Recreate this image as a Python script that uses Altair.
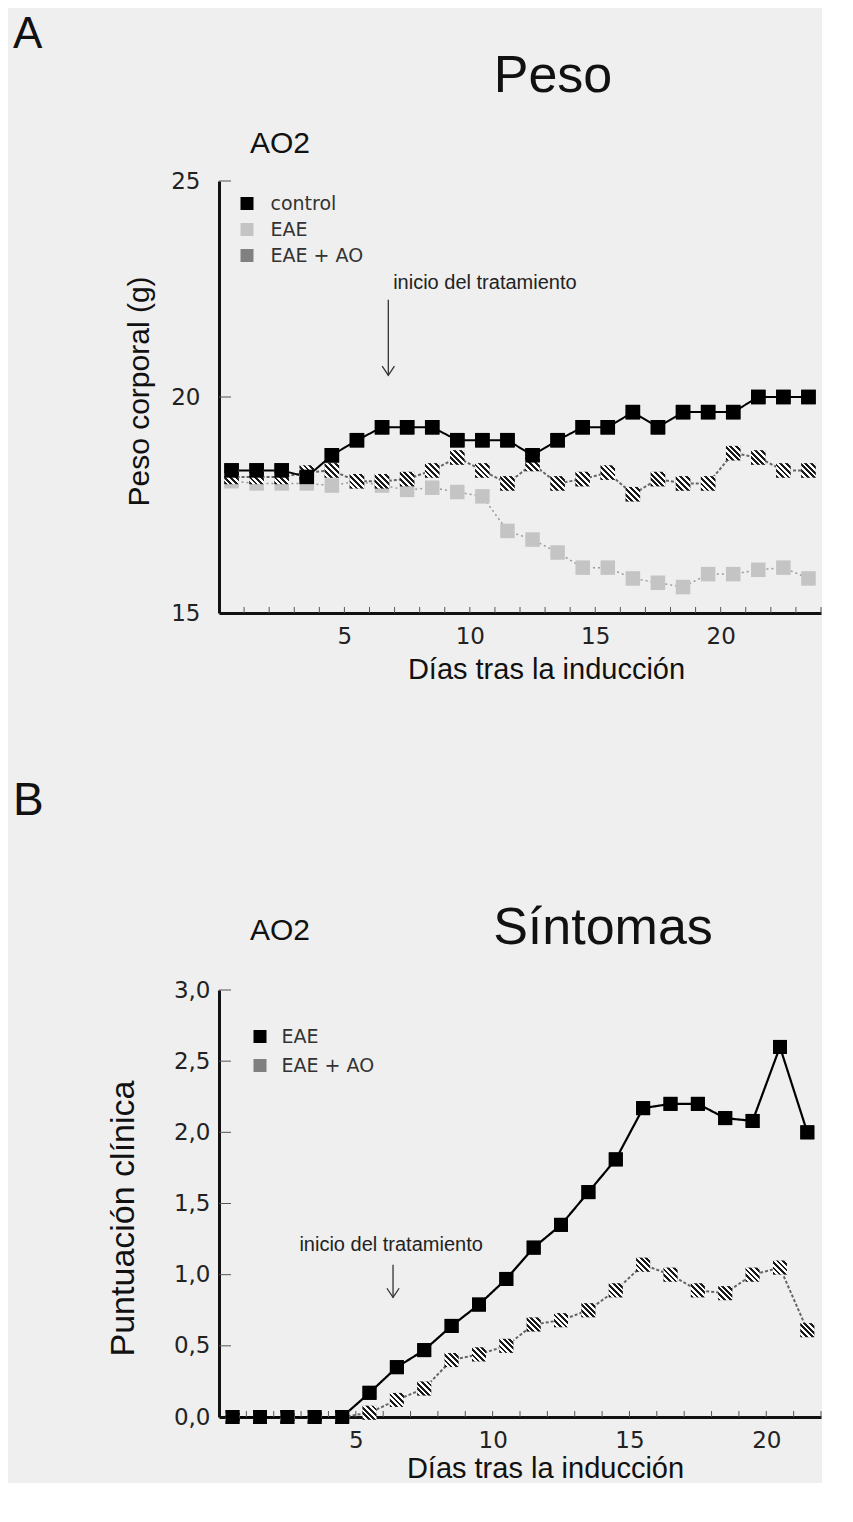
import altair as alt
import pandas as pd

# ---------------- data: panel A (Peso) ----------------
dias_a = [0.5, 1.5, 2.5, 3.5, 4.5, 5.5, 6.5, 7.5, 8.5, 9.5, 10.5, 11.5,
          12.5, 13.5, 14.5, 15.5, 16.5, 17.5, 18.5, 19.5, 20.5, 21.5, 22.5, 23.5]
peso_control = [18.3, 18.3, 18.3, 18.15, 18.65, 19.0, 19.3, 19.3, 19.3, 19.0, 19.0, 19.0,
                18.65, 19.0, 19.3, 19.3, 19.65, 19.3, 19.65, 19.65, 19.65, 20.0, 20.0, 20.0]
peso_eae = [18.05, 18.0, 18.0, 18.0, 17.95, 18.05, 17.95, 17.85, 17.9, 17.8, 17.7, 16.9,
            16.7, 16.4, 16.05, 16.05, 15.8, 15.7, 15.6, 15.9, 15.9, 16.0, 16.05, 15.8]
peso_eae_ao = [18.15, 18.15, 18.15, 18.25, 18.3, 18.05, 18.05, 18.1, 18.3, 18.6, 18.3, 18.0,
               18.45, 18.0, 18.1, 18.25, 17.75, 18.1, 18.0, 18.0, 18.7, 18.6, 18.3, 18.3]
ticks_x_a = [1, 2, 3, 4, 5, 6, 7, 8, 9, 10, 11, 12, 13, 14, 15, 16, 17, 18, 19, 20, 21, 22, 23, 24]
ticks_y_a = [20, 25]

# ---------------- data: panel B (Síntomas) ----------------
dias_b = [0.5, 1.5, 2.5, 3.5, 4.5, 5.5, 6.5, 7.5, 8.5, 9.5, 10.5,
          11.5, 12.5, 13.5, 14.5, 15.5, 16.5, 17.5, 18.5, 19.5, 20.5, 21.5]
sint_eae = [0, 0, 0, 0, 0, 0.17, 0.35, 0.47, 0.64, 0.79, 0.97,
            1.19, 1.35, 1.58, 1.81, 2.17, 2.2, 2.2, 2.1, 2.08, 2.6, 2.0]
sint_eae_ao = [0, 0, 0, 0, 0, 0.03, 0.12, 0.2, 0.4, 0.44, 0.5,
               0.65, 0.68, 0.75, 0.89, 1.07, 1.0, 0.89, 0.87, 1.0, 1.05, 0.61]
ticks_x_b = [1, 2, 3, 4, 5, 6, 7, 8, 9, 10, 11, 12, 13, 14, 15, 16, 17, 18, 19, 20, 21, 22]
ticks_y_b = [0.5, 1.0, 1.5, 2.0, 2.5, 3.0]

series_a = ["control", "EAE", "EAE + AO"]
series_b = ["EAE", "EAE + AO"]
texto_flecha = "inicio del tratamiento"
# annotation anchors (data units): text x, text y, arrow x, arrow top, arrow bottom
flecha_a = [10.6, 22.64, 6.75, 22.25, 20.5]
flecha_b = [6.29, 1.21, 6.36, 1.07, 0.84]

SANS = "Liberation Sans"
WIDE = "DejaVu Sans"


def hatch():
    stops = []
    n = 5
    for k in range(n):
        a, b, c = k / n, (k + 0.5) / n, (k + 1) / n
        stops += [alt.GradientStop(color="#1a1a1a", offset=a),
                  alt.GradientStop(color="#1a1a1a", offset=b),
                  alt.GradientStop(color="#ffffff", offset=b),
                  alt.GradientStop(color="#ffffff", offset=c)]
    return alt.LinearGradient(gradient="linear", stops=stops, x1=0, y1=1, x2=1, y2=0)


def txt(s, x, y, size, align="center"):
    return alt.Chart(pd.DataFrame({"t": [s]})).mark_text(
        font=SANS, fontSize=size, align=align, baseline="alphabetic", color="#111"
    ).encode(x=alt.value(x), y=alt.value(y), text="t:N")


def panel(dias, series_vals, names, colors, fills, dashes, widths, xdom, ydom,
          xaxis, yaxis, tx, ty, fl, legend, head, sq):
    rows = []
    for name, vals in zip(names, series_vals):
        for d, v in zip(dias, vals):
            rows.append({"dia": d, "valor": v, "serie": name, "grupo": name})
    df = pd.DataFrame(rows)
    xs = alt.Scale(domain=xdom, nice=False, zero=False)
    ys = alt.Scale(domain=ydom, nice=False, zero=False)

    def X(f):
        return alt.X(f, type="quantitative", scale=xs, axis=xaxis)

    def Y(f):
        return alt.Y(f, type="quantitative", scale=ys, axis=yaxis)

    base = alt.Chart(df)
    layers = []
    # lines, one layer per series (drawn back to front)
    for name, col, dash, w in reversed(list(zip(names, colors, dashes, widths))):
        layers.append(base.transform_filter(alt.datum.serie == name).mark_line(
            color=col, strokeDash=dash, strokeWidth=w).encode(x=X("dia"), y=Y("valor")))
    fill_enc = alt.Fill("grupo:N", scale=alt.Scale(domain=names, range=fills), legend=legend)
    # all squares via the fill scale (gives the legend)
    layers.append(base.mark_square(size=sq, opacity=1).encode(x=X("dia"), y=Y("valor"), fill=fill_enc))
    # hatched overlay for EAE + AO
    layers.append(base.transform_filter(alt.datum.serie == "EAE + AO").mark_square(
        size=sq, opacity=1, fill=hatch()).encode(x=X("dia"), y=Y("valor")))
    # black series on top
    layers.append(base.transform_filter(alt.datum.serie == names[0]).mark_square(
        size=sq, opacity=1, fill="#000000").encode(x=X("dia"), y=Y("valor")))

    # inside ticks
    tdx = pd.DataFrame({"d": tx, "y0": [ydom[0]] * len(tx)})
    tdy = pd.DataFrame({"v": ty, "x0": [xdom[0]] * len(ty)})
    layers.append(alt.Chart(tdx).mark_rule(color="#555", strokeWidth=1, y2Offset=-6).encode(
        x=X("d"), y=Y("y0"), y2=alt.Y2("y0")))
    layers.append(alt.Chart(tdy).mark_rule(color="#555", strokeWidth=1, x2Offset=12).encode(
        y=Y("v"), x=X("x0"), x2=alt.X2("x0")))

    # arrow annotation
    fdf = pd.DataFrame({"tx": [fl[0]], "ty": [fl[1]], "ax": [fl[2]], "a1": [fl[3]], "a2": [fl[4]],
                        "t": [texto_flecha]})
    layers.append(alt.Chart(fdf).mark_text(font=SANS, fontSize=20, color="#222", baseline="middle").encode(
        x=X("tx"), y=Y("ty"), text="t:N"))
    layers.append(alt.Chart(fdf).mark_rule(color="#333", strokeWidth=1.3).encode(
        x=X("ax"), y=Y("a1"), y2=alt.Y2("a2")))
    layers.append(alt.Chart(fdf).mark_point(shape="M-1,-1.5L0,0L1,-1.5", size=150, filled=False,
                                            color="#333", strokeWidth=1.3, opacity=1).encode(
        x=X("ax"), y=Y("a2")))

    for s, x, y, size, al in head:
        layers.append(txt(s, x, y, size, al))
    return alt.layer(*layers)


axis_common = dict(ticks=False, tickSize=0, grid=False, domainWidth=3, domainColor="#111",
                   labelFont=WIDE, labelFontSize=23, labelColor="#222",
                   titleFont=SANS, titleFontWeight="normal", titleColor="#111")

xaxis_a = alt.Axis(values=[5, 10, 15, 20], title="Días tras la inducción", labelPadding=12,
                   titleFontSize=29, titlePadding=7, titleX=327, titleAlign="center", **axis_common)
yaxis_a = alt.Axis(values=[15, 20, 25], title="Peso corporal (g)", labelPadding=19,
                   titleFontSize=30, titlePadding=16, titleY=210, **axis_common)
xaxis_b = alt.Axis(values=[5, 10, 15, 20], title="Días tras la inducción", labelPadding=12,
                   titleFontSize=29, titlePadding=2, titleX=326, titleAlign="center", **axis_common)
yaxis_b = alt.Axis(values=[0, 0.5, 1, 1.5, 2, 2.5, 3], title="Puntuación clínica", labelPadding=9,
                   labelExpr="replace(format(datum.value, '.1f'), '.', ',')",
                   titleFontSize=34, titlePadding=33, titleY=228, **axis_common)

legend_a = alt.Legend(orient="none", legendX=18.5, legendY=13, title=None, padding=0,
                      symbolType="square", symbolSize=169, symbolStrokeWidth=0,
                      labelFont=WIDE, labelFontSize=19, labelOffset=14, rowPadding=6, labelColor="#333")
legend_b = alt.Legend(orient="none", legendX=31.5, legendY=37, title=None, padding=0,
                      symbolType="square", symbolSize=169, symbolStrokeWidth=0,
                      labelFont=WIDE, labelFontSize=19, labelOffset=12, rowPadding=9, labelColor="#333")

panel_a = panel(dias_a, [peso_control, peso_eae, peso_eae_ao], series_a,
                ["#000000", "#9a9a9a", "#666666"], ["#000000", "#c4c4c4", "#808080"],
                [[1, 0], [2, 3], [3, 2]], [2, 1.5, 2], [0, 24], [15, 25],
                xaxis_a, yaxis_a, ticks_x_a, ticks_y_a, flecha_a, legend_a,
                [("A", -206, -133, 44, "left"), ("Peso", 334, -89, 52, "center"),
                 ("AO2", 61, -28, 30, "center")], 210).properties(width=602, height=432)
panel_b = panel(dias_b, [sint_eae, sint_eae_ao], series_b,
                ["#000000", "#666666"], ["#000000", "#808080"],
                [[1, 0], [3, 2]], [2.2, 2], [0, 22], [0, 3],
                xaxis_b, yaxis_b, ticks_x_b, ticks_y_b, flecha_b, legend_b,
                [("B", -206, -175, 46, "left"), ("Síntomas", 384, -46, 52, "center"),
                 ("AO2", 61, -50, 30, "center")], 195).properties(width=602, height=427)

chart = alt.vconcat(panel_a, panel_b, spacing=377, bounds="flush").resolve_scale(
    x="independent", y="independent", fill="independent"
).configure_view(stroke=None).properties(
    background="#efefef", padding={"left": 5, "top": 5, "right": 0, "bottom": 0}
)

chart.save("out.html", embed_options={"renderer": "svg", "actions": False})
